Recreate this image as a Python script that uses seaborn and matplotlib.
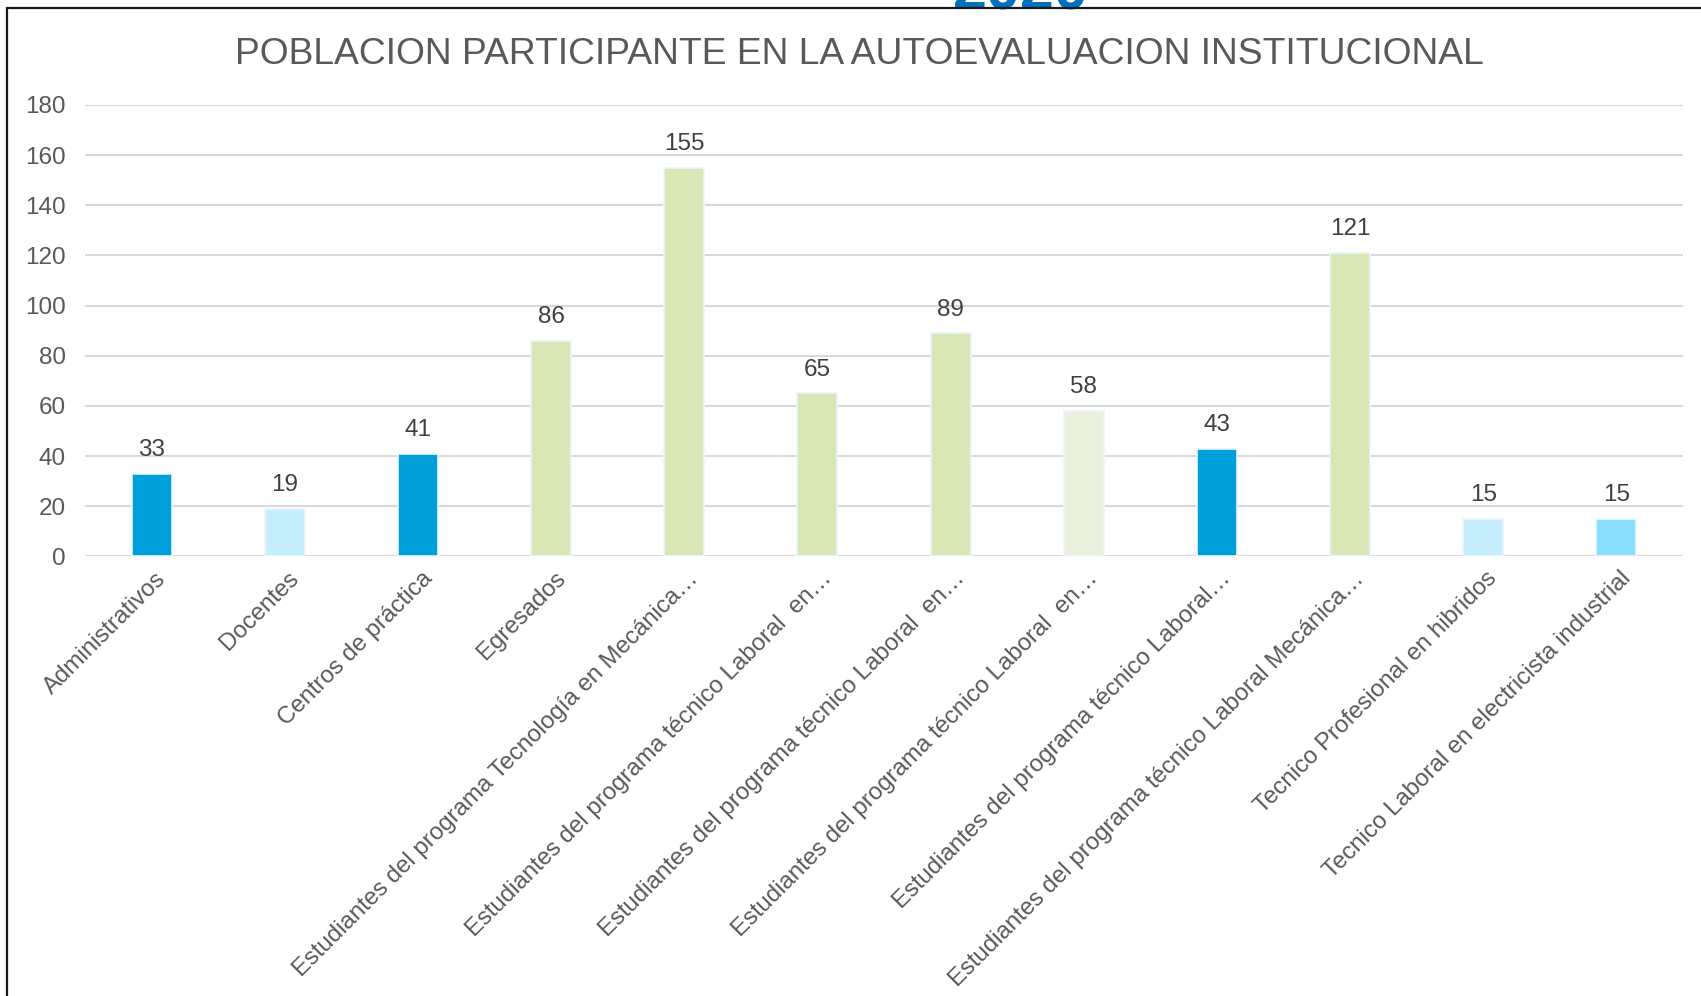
import matplotlib
matplotlib.use("Agg")
import matplotlib.pyplot as plt
import matplotlib.transforms as mtransforms
import pandas as pd
import seaborn as sns
from matplotlib.patches import Rectangle

# Datos del gráfico
categorias = [
    "Administrativos",
    "Docentes",
    "Centros de práctica",
    "Egresados",
    "Estudiantes del programa Tecnología en Mecánica…",
    "Estudiantes del programa técnico Laboral  en…",
    "Estudiantes del programa técnico Laboral  en… ",
    "Estudiantes del programa técnico Laboral  en…  ",
    "Estudiantes del programa técnico Laboral…",
    "Estudiantes del programa técnico Laboral Mecánica…",
    "Tecnico Profesional en hibridos",
    "Tecnico Laboral en electricista industrial",
]
valores = [33, 19, 41, 86, 155, 65, 89, 58, 43, 121, 15, 15]
colores = ["#009FD9", "#C6EEFC", "#009FD9", "#D9E6B6", "#D9E6B6", "#D9E6B6",
           "#D9E6B6", "#EBF1DC", "#009FD9", "#D9E6B6", "#C6EEFC", "#8ADFFD"]

df = pd.DataFrame({"categoria": categorias, "valor": valores})

sns.set_theme(style="white")
plt.rcParams["font.family"] = ["Liberation Sans", "DejaVu Sans"]

fig = plt.figure(figsize=(17.01, 9.96), dpi=100)
ax = fig.add_axes([0.05, 0.4413, 0.9394, 0.4533])

sns.barplot(data=df, x="categoria", y="valor", hue="categoria",
            palette=colores, saturation=1, legend=False, width=0.3, ax=ax,
            edgecolor="#EAF6FC", linewidth=1.2, zorder=3)

ax.set_ylim(0, 180)
ax.set_yticks(range(0, 181, 20))
ax.yaxis.grid(True, color="#D9D9D9", linewidth=1.5, zorder=0)
ax.set_axisbelow(True)
for s in ax.spines.values():
    s.set_visible(False)
ax.tick_params(axis="both", length=0, labelsize=17.5, colors="#595959")
ax.tick_params(axis="y", pad=14)
ax.set_xlabel("")
ax.set_ylabel("")

etiquetas = [c.strip() for c in categorias]
ax.set_xticks(range(len(etiquetas)))
ax.set_xticklabels(etiquetas, rotation=45, ha="right", rotation_mode="anchor",
                   fontsize=17.3)
ax.tick_params(axis="x", pad=8)
desplaz = mtransforms.ScaledTranslation(3 / 100, 0, fig.dpi_scale_trans)
for lab in ax.get_xticklabels():
    lab.set_transform(lab.get_transform() + desplaz)

# Etiquetas de datos
for cont in ax.containers:
    ax.bar_label(cont, fmt="%d", padding=9, fontsize=17.5, color="#404040")

fig.text(0.505, 0.9457, "POBLACION PARTICIPANTE EN LA AUTOEVALUACION INSTITUCIONAL",
         ha="center", va="center", fontsize=26.8, color="#595959")

# Texto azul cortado en la parte superior (como en la imagen original)
fig.text(0.6, 1 - 9 / 996, "2020", ha="center", va="baseline",
         fontsize=44, fontweight="bold", color="#0070C0")

# Marco
fig.add_artist(Rectangle((7 / 1701, -0.1), 1.2, 1.1 - 8 / 996,
                         transform=fig.transFigure, fill=False,
                         edgecolor="#1A1A1A", linewidth=1.6, zorder=10))

fig.savefig("out.png", dpi=100)
plt.close(fig)
